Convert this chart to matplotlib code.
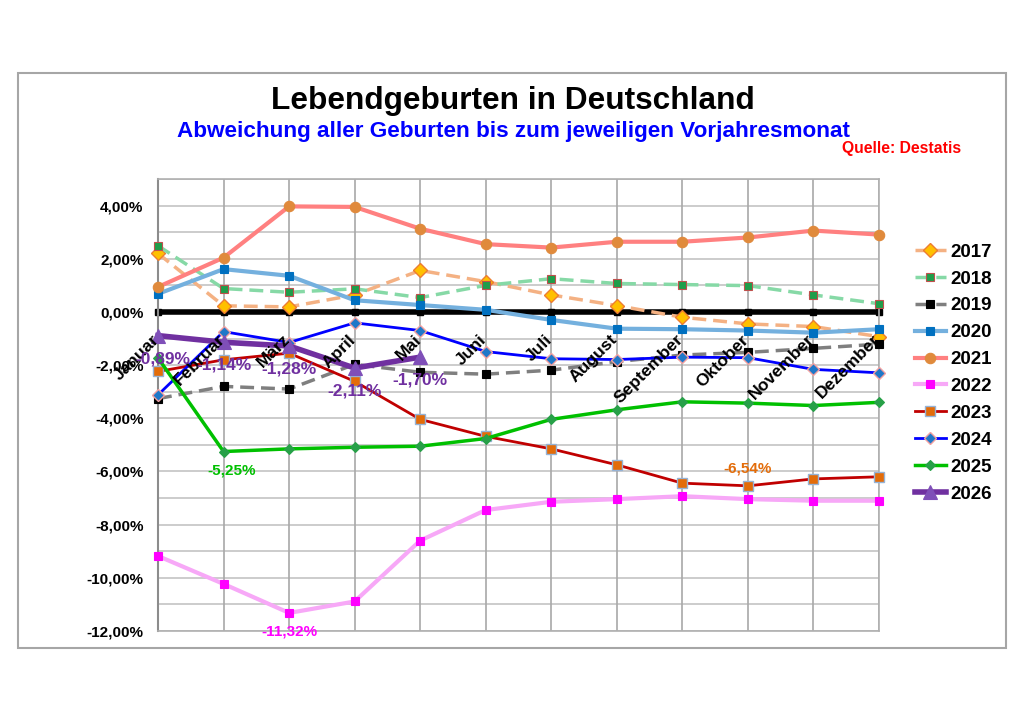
import matplotlib
matplotlib.use("Agg")
import matplotlib.pyplot as plt
from matplotlib.patches import Rectangle
from matplotlib.ticker import FixedLocator, FuncFormatter

plt.rcParams['font.family'] = ['Liberation Sans', 'DejaVu Sans']

months = ['Januar', 'Februar', 'März', 'April', 'Mai', 'Juni', 'Juli', 'August',
          'September', 'Oktober', 'November', 'Dezember']

v2017 = [2.20, 0.23, 0.19, 0.64, 1.56, 1.14, 0.64, 0.24, -0.20, -0.45, -0.55, -0.93]
v2018 = [2.49, 0.88, 0.74, 0.87, 0.54, 1.00, 1.25, 1.07, 1.03, 0.99, 0.64, 0.31]
v2019 = [-3.26, -2.80, -2.90, -1.97, -2.27, -2.34, -2.19, -1.87, -1.62, -1.52, -1.37, -1.21]
v2020 = [0.68, 1.61, 1.36, 0.44, 0.26, 0.08, -0.30, -0.63, -0.65, -0.70, -0.78, -0.65]
v2021 = [0.94, 2.04, 3.97, 3.95, 3.13, 2.55, 2.42, 2.64, 2.64, 2.80, 3.06, 2.91]
v2022 = [-9.18, -10.23, -11.32, -10.89, -8.60, -7.45, -7.14, -7.04, -6.93, -7.04, -7.10, -7.10]
v2023 = [-2.24, -1.80, -1.55, -2.61, -4.04, -4.68, -5.15, -5.75, -6.44, -6.54, -6.28, -6.20]
v2024 = [-3.12, -0.74, -1.15, -0.41, -0.70, -1.49, -1.76, -1.79, -1.70, -1.72, -2.16, -2.29]
v2025 = [-1.73, -5.25, -5.15, -5.09, -5.05, -4.76, -4.04, -3.68, -3.38, -3.43, -3.52, -3.40]
v2026 = [-0.89, -1.14, -1.28, -2.11, -1.70]

years = ['2017', '2018', '2019', '2020', '2021', '2022', '2023', '2024', '2025', '2026']
series = [v2017, v2018, v2019, v2020, v2021, v2022, v2023, v2024, v2025, v2026]

styles = {
    '2017': dict(color='#F4B183', lw=2.5, ls=(0, (4, 2)), marker='D', ms=7, mfc='#FFC000', mec='#ED7D31', mew=1.0),
    '2018': dict(color='#86D9A6', lw=2.5, ls=(0, (4, 2)), marker='s', ms=5.5, mfc='#1E9E4A', mec='#C0504D', mew=0.8),
    '2019': dict(color='#7F7F7F', lw=2.5, ls=(0, (4, 2)), marker='s', ms=5.5, mfc='#000000', mec='#000000', mew=0.8),
    '2020': dict(color='#74B0DE', lw=3.0, ls='-', marker='s', ms=6, mfc='#0070C0', mec='#0070C0', mew=0.8),
    '2021': dict(color='#FF8080', lw=3.0, ls='-', marker='o', ms=7.5, mfc='#E08A3C', mec='#E08A3C', mew=0.8),
    '2022': dict(color='#F7A8F7', lw=3.0, ls='-', marker='s', ms=5.5, mfc='#FF00FF', mec='#FF00FF', mew=0.8),
    '2023': dict(color='#C00000', lw=2.0, ls='-', marker='s', ms=6.5, mfc='#E36C09', mec='#95B3D7', mew=1.0),
    '2024': dict(color='#0000FF', lw=2.0, ls='-', marker='D', ms=6.5, mfc='#1F78C8', mec='#F2A0A0', mew=1.0),
    '2025': dict(color='#00C000', lw=2.5, ls='-', marker='D', ms=5.5, mfc='#27A048', mec='#27A048', mew=0.8),
    '2026': dict(color='#7030A0', lw=4.0, ls='-', marker='^', ms=10, mfc='#7F4FB8', mec='#7F4FB8', mew=0.8),
}

fig = plt.figure(figsize=(10.24, 7.21), dpi=100)
fig.patch.set_facecolor('white')

# outer frame
fig.patches.append(Rectangle((18 / 1024, 1 - 648 / 721), (1006 - 18) / 1024, (648 - 73) / 721,
                             transform=fig.transFigure, fill=False, edgecolor='#A6A6A6', lw=1.5, zorder=0))

ax = fig.add_axes([158 / 1024, 1 - 631 / 721, (879 - 158) / 1024, (631 - 179) / 721])
x = list(range(len(months)))
ax.set_xlim(0, len(months) - 1)
ax.set_ylim(-12, 5)

# grid
for yv in range(-12, 6):
    ax.axhline(yv, color='#C4C4C4', lw=1.2, zorder=1)
for xv in x:
    ax.axvline(xv, color='#A8A8A8', lw=1.2, zorder=1)

for s in ['top', 'right', 'bottom']:
    ax.spines[s].set_color('#B0B0B0')
    ax.spines[s].set_linewidth(1.2)
ax.spines['left'].set_color('#8C8C8C')
ax.spines['left'].set_linewidth(1.5)

# zero axis line with tick marks
ax.plot(x, [0] * len(x), color='black', lw=4, marker='s', ms=5, zorder=2, clip_on=False)

lines = []
for yr, vals in zip(years, series):
    st = styles[yr]
    ln, = ax.plot(x[:len(vals)], vals, color=st['color'], lw=st['lw'], ls=st['ls'],
                  marker=st['marker'], ms=st['ms'], mfc=st['mfc'], mec=st['mec'],
                  mew=st['mew'], label=yr, zorder=3, clip_on=False)
    lines.append(ln)

ax.yaxis.set_major_locator(FixedLocator(list(range(-12, 5, 2))))
ax.yaxis.set_major_formatter(FuncFormatter(lambda v, p: f"{v:.2f}".replace('.', ',') + '%'))
ax.tick_params(axis='y', length=0, pad=10.5, labelsize=11)
for t in ax.get_yticklabels():
    t.set_fontweight('bold')
ax.set_xticks([])

# month labels at the zero line
for i, m in enumerate(months):
    ax.text(i + 0.06, -0.75, m, rotation=45, ha='right', va='top', fontsize=12.5,
            fontweight='bold', color='black', zorder=6)

def fmt(v):
    return f"{v:.2f}".replace('.', ',') + '%'

# data labels
for i, v in enumerate(v2026):
    dx = 5 if i == 0 else 0
    ax.annotate(fmt(v), (i, v), xytext=(dx, -23), textcoords='offset pixels',
                ha='center', va='center', fontsize=12.5, fontweight='bold', color='#7030A0', zorder=7)
ax.annotate(fmt(v2025[1]), (1, v2025[1]), xytext=(8, -19), textcoords='offset pixels',
            ha='center', va='center', fontsize=11, fontweight='bold', color='#00C000', zorder=7)
ax.annotate(fmt(v2022[2]), (2, v2022[2]), xytext=(0, -19), textcoords='offset pixels',
            ha='center', va='center', fontsize=11, fontweight='bold', color='#FF00FF', zorder=7,
            annotation_clip=False)
ax.annotate(fmt(v2023[9]), (9, v2023[9]), xytext=(0, 17), textcoords='offset pixels',
            ha='center', va='center', fontsize=11, fontweight='bold', color='#E36C09', zorder=7)

leg = fig.legend(handles=lines, labels=years, loc='upper left',
                 bbox_to_anchor=(907 / 1024, 1 - 236 / 721), frameon=False,
                 prop=dict(size=13.5, weight='bold'), handlelength=1.7,
                 handletextpad=0.2, labelspacing=0.52, borderaxespad=0)

fig.text(0.501, 1 - 101 / 721, 'Lebendgeburten in Deutschland', ha='center', va='center',
         fontsize=22.8, fontweight='bold', color='black')
fig.text(0.501, 1 - 132 / 721, 'Abweichung aller Geburten bis zum jeweiligen Vorjahresmonat',
         ha='center', va='center', fontsize=16.2, fontweight='bold', color='#0000FF')
fig.text(961 / 1024, 1 - 148 / 721, 'Quelle: Destatis', ha='right', va='center',
         fontsize=11.3, fontweight='bold', color='#FF0000')

fig.savefig('out.png', dpi=100, facecolor='white')
